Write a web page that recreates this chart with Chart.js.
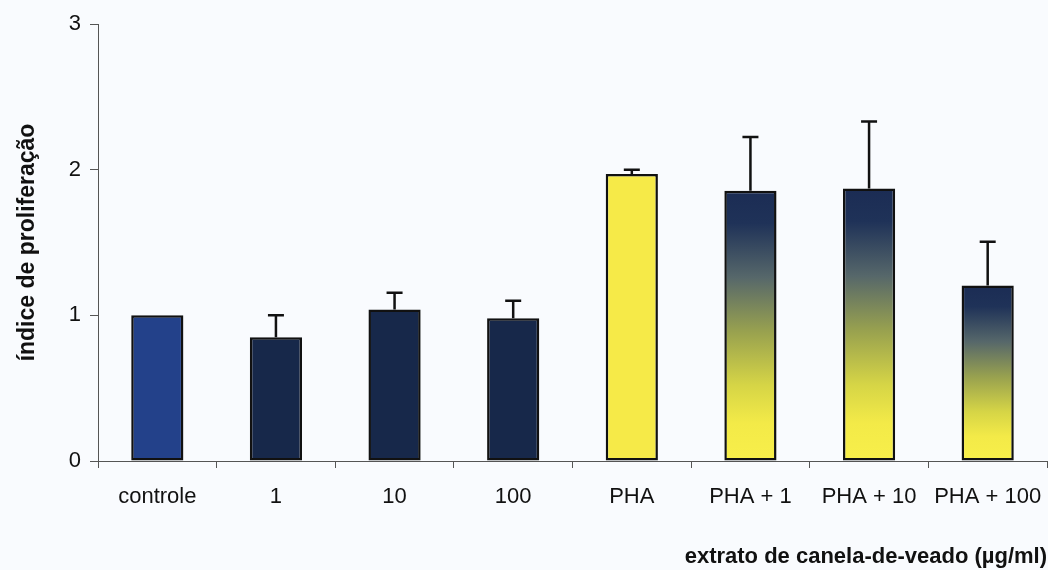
<!DOCTYPE html>
<html>
<head>
<meta charset="utf-8">
<script src="https://cdn.jsdelivr.net/npm/chart.js@4.4.0/dist/chart.umd.min.js"></script>
<style>
  html, body { margin: 0; padding: 0; background: #f9fbfe; }
  #wrap { width: 1048px; height: 570px; }
</style>
</head>
<body>
<div id="wrap"><canvas id="chart" width="1048" height="570"></canvas></div>
<script>
// grupos e medias do indice de proliferacao
var groups = ["controle", "1", "10", "100", "PHA", "PHA + 1", "PHA + 10", "PHA + 100"];
var means = [1.0, 0.85, 1.04, 0.98, 1.97, 1.855, 1.87, 1.205];
var errors = [0, 0.15, 0.115, 0.12, 0.03, 0.37, 0.46, 0.3];
var yTicks = [0, 1, 2, 3];

// 0 = controle, 1 = extrato, 2 = PHA, 3 = PHA + extrato (degrade)
var barKind = [0, 1, 1, 1, 2, 3, 3, 3];
var solidColors = ["#23418a", "#17284a", "#f6ea48"];

var fontFam = "'Liberation Sans', Arial, sans-serif";

function fadeFill(ctx) {
  var chart = ctx.chart;
  var kind = barKind[ctx.dataIndex];
  if (kind !== 3) return solidColors[kind];
  var y = chart.scales.y;
  if (!y || !chart.chartArea) return "#7d8650";
  var top = y.getPixelForValue(means[ctx.dataIndex]);
  var bottom = y.getPixelForValue(0);
  var g = chart.ctx.createLinearGradient(0, top, 0, bottom);
  g.addColorStop(0, "#1b2c54");
  g.addColorStop(0.12, "#1f3258");
  g.addColorStop(0.32, "#56676a");
  g.addColorStop(0.52, "#98a14f");
  g.addColorStop(0.72, "#d6d546");
  g.addColorStop(0.86, "#f3ea48");
  g.addColorStop(1, "#f8ef4a");
  return g;
}

// barra de erro (so para cima) com traco no topo
var errorBars = {
  id: "errorBars",
  afterDatasetsDraw: function (chart) {
    var meta = chart.getDatasetMeta(0);
    var y = chart.scales.y;
    var c = chart.ctx;
    c.save();
    c.strokeStyle = "#111";
    c.lineWidth = 2.5;
    meta.data.forEach(function (bar, i) {
      if (!errors[i]) return;
      var yTop = y.getPixelForValue(means[i] + errors[i]);
      var yBar = y.getPixelForValue(means[i]);
      c.beginPath();
      c.moveTo(bar.x, yBar);
      c.lineTo(bar.x, yTop);
      c.moveTo(bar.x - 8, yTop);
      c.lineTo(bar.x + 8, yTop);
      c.stroke();
    });
    c.restore();
  }
};

var bgFill = {
  id: "bgFill",
  beforeDraw: function (chart) {
    var c = chart.ctx;
    c.save();
    c.fillStyle = "#f9fbfe";
    c.fillRect(0, 0, chart.width, chart.height);
    c.restore();
  }
};

new Chart(document.getElementById("chart"), {
  type: "bar",
  data: {
    labels: groups,
    datasets: [{
      data: means,
      backgroundColor: fadeFill,
      borderColor: "#111",
      borderWidth: 2.5,
      borderSkipped: false,
      categoryPercentage: 1,
      barPercentage: 0.44
    }]
  },
  options: {
    responsive: false,
    animation: false,
    layout: { padding: { top: 24, right: 1, left: 0, bottom: 0 } },
    plugins: {
      legend: { display: false },
      tooltip: { enabled: false }
    },
    scales: {
      x: {
        grid: { offset: true, drawOnChartArea: false, tickLength: 7, color: "#555" },
        border: { color: "#555", width: 1 },
        ticks: { color: "#111", padding: 16, font: { family: fontFam, size: 22 } },
        title: {
          display: true,
          text: "extrato de canela-de-veado (µg/ml)",
          align: "end",
          color: "#111",
          padding: { top: 16, bottom: 0 },
          font: { family: fontFam, size: 22, weight: "bold" }
        },
        afterFit: function (s) {
          s.height = 109;
          // o ultimo rotulo pode passar da borda, como no original
          s.paddingLeft = 0;
          s.paddingRight = 0;
        }
      },
      y: {
        min: 0,
        max: 3,
        afterBuildTicks: function (s) {
          s.ticks = yTicks.map(function (v) { return { value: v }; });
        },
        grid: { drawOnChartArea: false, tickLength: 8, color: "#555" },
        border: { color: "#555", width: 1 },
        ticks: { color: "#111", padding: 9, font: { family: fontFam, size: 22 } },
        title: {
          display: true,
          text: "índice de proliferação",
          color: "#111",
          padding: { top: 14, bottom: 10 },
          font: { family: fontFam, size: 23, weight: "bold" }
        },
        afterFit: function (s) { s.width = 98; }
      }
    }
  },
  plugins: [bgFill, errorBars]
});
</script>
</body>
</html>
